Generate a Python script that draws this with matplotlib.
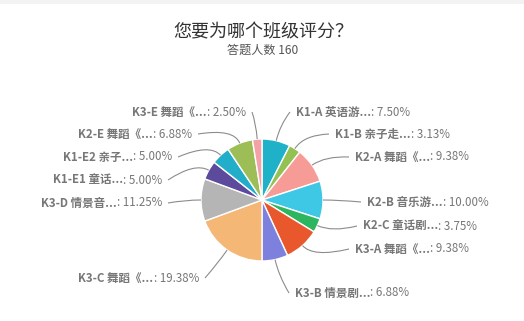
import matplotlib
matplotlib.use("Agg")
import matplotlib.pyplot as plt
import numpy as np
from matplotlib.path import Path
from matplotlib.patches import PathPatch, Rectangle

plt.rcParams['font.family'] = ['Noto Sans CJK SC', 'DejaVu Sans']

# ---- data ----
names = ["K1-A 英语游...", "K1-B 亲子走...", "K2-A 舞蹈《...", "K2-B 音乐游...",
         "K2-C 童话剧...", "K3-A 舞蹈《...", "K3-B 情景剧...", "K3-C 舞蹈《...",
         "K3-D 情景音...", "K1-E1 童话...", "K1-E2 亲子...", "K2-E 舞蹈《...",
         "K3-E 舞蹈《..."]
values = [7.50, 3.13, 9.38, 10.00, 3.75, 9.38, 6.88, 19.38, 11.25, 5.00, 5.00, 6.88, 2.50]
colors = ["#1fb1c8", "#93c152", "#f79b97", "#3fc7e6", "#2eb55f", "#e9582d", "#7d80dc",
          "#f4b776", "#b5b5b5", "#5c4b9c", "#22aec8", "#9dbe57", "#f3a1a7"]
title = "您要为哪个班级评分？"
subtitle = "答题人数 160"

# ---- layout (pixel coords, y from top) ----
W, H = 524, 321
cx, cy, R = 262, 200, 61
# (side, text x, text y) ; right: x = text start, left: x = text end
label_pos = [("R", 296, 112), ("R", 335, 134), ("R", 355, 157), ("R", 367, 202),
             ("R", 363, 226), ("R", 355, 249), ("R", 295, 293), ("L", 199, 278),
             ("L", 162, 203), ("L", 162, 180), ("L", 172, 157), ("L", 192, 134),
             ("L", 246, 112)]

fig = plt.figure(figsize=(W / 100, H / 100), dpi=100)
ax = fig.add_axes([0, 0, 1, 1])
ax.pie(values, colors=colors, startangle=90, counterclock=False,
       center=(cx, H - cy), radius=R,
       wedgeprops=dict(edgecolor="white", linewidth=1.0))
ax.set_xlim(0, W)
ax.set_ylim(0, H)
ax.set_aspect('equal')
ax.axis('off')

ax.add_patch(Rectangle((0, H - 4), W, 4, color="#f3f3f3", lw=0))

ax.text(W / 2 + 1, H - 32, title, ha='center', va='center', fontsize=13, color="#333333")
ax.text(W / 2 + 1, H - 50, subtitle, ha='center', va='center', fontsize=8.7, color="#555555")

tc = "#777777"
fs = 8.3
angles = 90 - 360 * (np.cumsum(values) - np.array(values) / 2) / sum(values)
for name, v, ang, (side, tx, ty) in zip(names, values, angles, label_pos):
    a = np.deg2rad(ang)
    p0 = (cx + R * np.cos(a), H - cy + R * np.sin(a))
    ctrl = (cx + (R + 16) * np.cos(a), H - cy + (R + 16) * np.sin(a))
    ty_ = H - ty
    if side == "R":
        end = (tx - 6, ty_)
    else:
        end = (tx + 6, ty_)
    path = Path([p0, ctrl, end], [Path.MOVETO, Path.CURVE3, Path.CURVE3])
    ax.add_patch(PathPatch(path, fill=False, edgecolor="#8c8c8c", lw=0.8))
    pct = ": %.2f%%" % v
    if side == "R":
        t1 = ax.text(tx, ty_, name, ha='left', va='center', fontsize=fs,
                     fontweight='bold', color=tc)
        ax.annotate(pct, xy=(1, 0.5), xycoords=t1, ha='left', va='center',
                    fontsize=fs, color=tc)
    else:
        t2 = ax.text(tx, ty_, pct, ha='right', va='center', fontsize=fs, color=tc)
        ax.annotate(name, xy=(0, 0.5), xycoords=t2, ha='right', va='center',
                    fontsize=fs, fontweight='bold', color=tc)

fig.savefig("out.png", dpi=100, facecolor="white")
